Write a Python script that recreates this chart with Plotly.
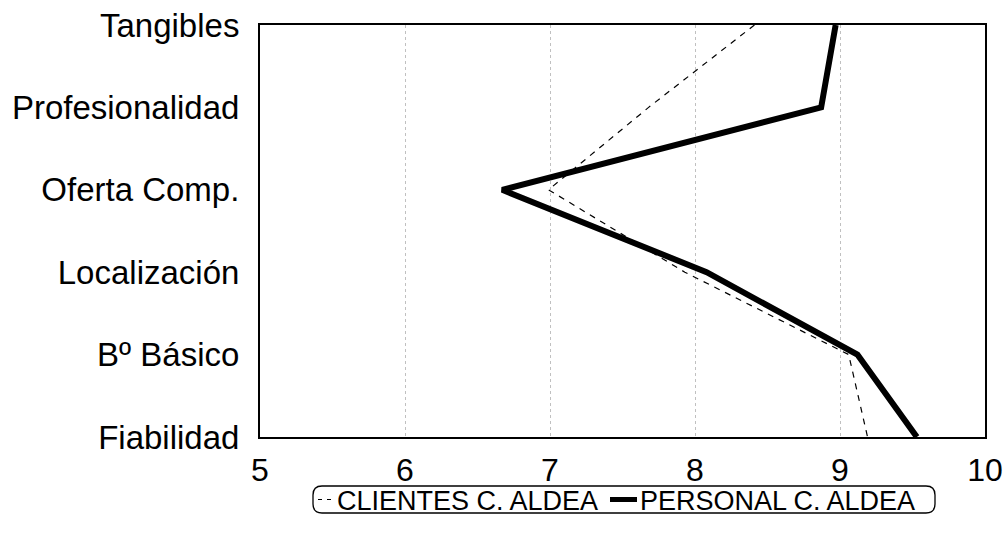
import plotly.graph_objects as go

# Service-quality dimensions (top to bottom) and mean scores per group
categories = ["Tangibles", "Profesionalidad", "Oferta Comp.", "Localización", "Bº Básico", "Fiabilidad"]
clientes = [8.41, 7.68, 6.99, 7.93, 9.06, 9.19]
personal = [8.97, 8.87, 6.67, 8.08, 9.12, 9.53]
x_ticks = [5, 6, 7, 8, 9, 10]
series_names = ["CLIENTES C. ALDEA", "PERSONAL C. ALDEA"]

FONT = "Arial, Liberation Sans, sans-serif"
W, H = 1008, 538
ML, MR, MT, MB = 260, 23, 25, 101
PW, PH = W - ML - MR, H - MT - MB


def px(x):
    """Horizontal pixel -> paper coordinate."""
    return (x - ML) / PW


def py(y):
    """Vertical pixel (from top) -> paper coordinate."""
    return (H - MB - y) / PH


dash_style = dict(color="black", width=1.2, dash="6px,6px")
solid_style = dict(color="black", width=6)

fig = go.Figure()
fig.add_trace(go.Scatter(x=clientes, y=categories, mode="lines",
                         name=series_names[0], line=dash_style))
fig.add_trace(go.Scatter(x=personal, y=categories, mode="lines",
                         name=series_names[1], line=solid_style))

# Legend drawn as a rounded box with line samples and labels
bx0, bx1, by0, by1, r = 313, 935, 486, 513, 9
path = (
    f"M {px(bx0 + r)} {py(by0)} L {px(bx1 - r)} {py(by0)} "
    f"Q {px(bx1)} {py(by0)} {px(bx1)} {py(by0 + r)} "
    f"L {px(bx1)} {py(by1 - r)} "
    f"Q {px(bx1)} {py(by1)} {px(bx1 - r)} {py(by1)} "
    f"L {px(bx0 + r)} {py(by1)} "
    f"Q {px(bx0)} {py(by1)} {px(bx0)} {py(by1 - r)} "
    f"L {px(bx0)} {py(by0 + r)} "
    f"Q {px(bx0)} {py(by0)} {px(bx0 + r)} {py(by0)} Z"
)
ly = (by0 + by1) / 2
shapes = [
    dict(type="path", path=path, xref="paper", yref="paper",
         line=dict(color="black", width=1.3), fillcolor="white"),
    dict(type="line", xref="paper", yref="paper",
         x0=px(318), x1=px(334), y0=py(ly), y1=py(ly),
         line=dict(color="black", width=1.2, dash="4px,5px")),
    dict(type="line", xref="paper", yref="paper",
         x0=px(610), x1=px(637), y0=py(ly), y1=py(ly),
         line=dict(color="black", width=5)),
]
annotations = [
    dict(text=series_names[0], xref="paper", yref="paper", x=px(335), y=py(ly + 1),
         xanchor="left", yanchor="middle", showarrow=False,
         font=dict(size=27, family=FONT, color="black")),
    dict(text=series_names[1], xref="paper", yref="paper", x=px(638), y=py(ly + 1),
         xanchor="left", yanchor="middle", showarrow=False,
         font=dict(size=27, family=FONT, color="black")),
]

fig.update_layout(
    width=W, height=H,
    margin=dict(l=ML, r=MR, t=MT, b=MB, autoexpand=False),
    paper_bgcolor="white", plot_bgcolor="white",
    font=dict(family=FONT, color="black", size=31),
    showlegend=False,
    shapes=shapes, annotations=annotations,
)
fig.update_xaxes(
    range=[5, 10], tickvals=x_ticks, ticktext=[str(v) for v in x_ticks],
    showline=True, linecolor="black", linewidth=2, mirror=True,
    showgrid=True, gridcolor="#c0c0c0", griddash="dot", gridwidth=1,
    zeroline=False, ticks="", ticklabelstandoff=4,
    tickfont=dict(size=32, family=FONT),
)
fig.update_yaxes(
    type="category", categoryorder="array", categoryarray=categories[::-1],
    range=[0, len(categories) - 1],
    showline=True, linecolor="black", linewidth=2, mirror=True,
    showgrid=False, zeroline=False, ticks="", ticklabelstandoff=12,
    tickfont=dict(size=33, family=FONT),
)

fig.write_html("out.html")
